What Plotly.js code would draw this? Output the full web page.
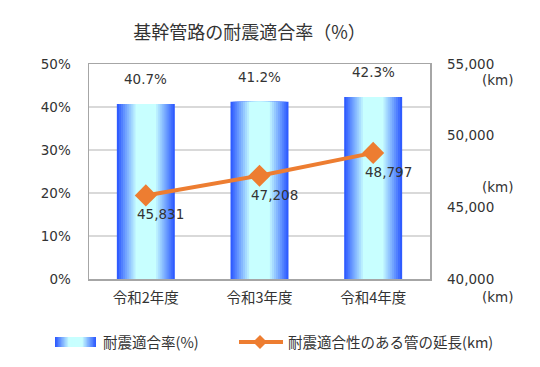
<!DOCTYPE html>
<html><head><meta charset="utf-8">
<script src="https://cdn.plot.ly/plotly-3.0.1.min.js"></script>
<style>html,body{margin:0;padding:0;background:#fff}#chart{width:540px;height:367px}</style>
</head><body><div id="chart"></div>
<script>
var categories = ['令和2年度', '令和3年度', '令和4年度'];
var rateValues = [40.7, 41.2, 42.3];          // 耐震適合率(%)
var lengthValues = [45831, 47208, 48797];     // 耐震適合性のある管の延長(km)
var rateTitle = '耐震適合率(%)';
var lengthTitle = '耐震適合性のある管の延長(km)';
var chartTitle = '基幹管路の耐震適合率（%）';

var numFont = 'DejaVu Sans, Verdana, sans-serif';
var cjkFont = 'Noto Sans CJK JP, sans-serif';
var txtColor = '#333333';

function hex(c){return [parseInt(c.substr(1,2),16),parseInt(c.substr(3,2),16),parseInt(c.substr(5,2),16)];}
function mix(a,b,t){var A=hex(a),B=hex(b);return 'rgb('+A.map(function(v,i){return Math.round(v+(B[i]-v)*t);}).join(',')+')';}
var edge='#2f5cff', center='#c8ffff';
var N=14, barW=0.51;
var traces=[];
var levelColors=[], levelFracs=[];
for(var i=0;i<N;i++){
  var t=i/(N-1);
  levelColors.push(mix(edge,center,Math.min(1,t*1.45)));
  levelFracs.push(1-i/N);
}
for(var i=0;i<N;i++){
  traces.push({type:'bar',x:categories,y:rateValues,width:barW*levelFracs[i],
    marker:{color:levelColors[i],line:{width:0}},showlegend:false,hoverinfo:i==0?'y':'skip',name:rateTitle});
}
traces.push({type:'scatter',mode:'lines+markers',x:categories,y:lengthValues,yaxis:'y2',name:lengthTitle,
  line:{color:'#ED7D31',width:4},marker:{symbol:'diamond',size:17,color:'#ED7D31'},showlegend:false});

var annotations=[];
categories.forEach(function(c,k){
  annotations.push({x:c,y:rateValues[k],xref:'x',yref:'y',text:rateValues[k].toFixed(1)+'%',showarrow:false,
    yshift:25,font:{family:numFont,size:13.5,color:txtColor}});
  annotations.push({x:c,y:lengthValues[k],xref:'x',yref:'y2',text:lengthValues[k].toLocaleString('en-US'),showarrow:false,
    xshift:15,yshift:-19,font:{family:numFont,size:13.5,color:txtColor}});
});
// (km) unit labels on right axis
[0.9256,0.4279,-0.0837].forEach(function(yy){
  annotations.push({xref:'paper',yref:'paper',x:1.1466,y:yy,xanchor:'left',yanchor:'middle',text:'(km)',showarrow:false,
    font:{family:numFont,size:13.5,color:txtColor}});
});
// legend texts
annotations.push({xref:'paper',yref:'paper',x:0.034,y:-0.293,xanchor:'left',yanchor:'middle',text:rateTitle,showarrow:false,
  font:{family:cjkFont,size:14.5,color:txtColor}});
annotations.push({xref:'paper',yref:'paper',x:0.577,y:-0.293,xanchor:'left',yanchor:'middle',text:lengthTitle,showarrow:false,
  font:{family:cjkFont,size:14.5,color:txtColor}});

var shapes=[];
// legend gradient swatch
var lx0=-0.0997, lx1=0.0205, lc=(lx0+lx1)/2, lhw=(lx1-lx0)/2;
for(var i=0;i<N;i++){
  shapes.push({type:'rect',xref:'paper',yref:'paper',x0:lc-lhw*levelFracs[i],x1:lc+lhw*levelFracs[i],y0:-0.316,y1:-0.270,
    fillcolor:levelColors[i],line:{width:0}});
}
shapes.push({type:'line',xref:'paper',yref:'paper',x0:0.4399,x1:0.5689,y0:-0.293,y1:-0.293,line:{color:'#ED7D31',width:4}});
shapes.push({type:'path',xref:'paper',yref:'paper',xsizemode:'pixel',ysizemode:'pixel',xanchor:0.5015,yanchor:-0.293,
  path:'M0,7 L7,0 L0,-7 L-7,0 Z',fillcolor:'#ED7D31',line:{width:0}});

var layout={
  width:540,height:367,
  margin:{l:89,r:110,t:64,b:88},
  paper_bgcolor:'#fff',plot_bgcolor:'#fff',
  barmode:'overlay',
  showlegend:false,
  title:{text:chartTitle,x:0.462,xanchor:'center',y:0.91,yanchor:'middle',font:{family:cjkFont,size:18,color:'#333'}},
  xaxis:{type:'category',range:[-0.5,2.5],showline:true,linecolor:'#a6a6a6',linewidth:1.5,mirror:true,ticks:'',
    tickfont:{family:cjkFont,size:14.5,color:txtColor},ticklabelstandoff:5,fixedrange:true},
  yaxis:{range:[0,50],dtick:10,ticksuffix:'%',showgrid:true,gridcolor:'#d9d9d9',gridwidth:1.5,zeroline:false,
    showline:true,linecolor:'#a6a6a6',linewidth:1.5,mirror:true,ticks:'',ticklabelstandoff:14,
    tickfont:{family:numFont,size:13.5,color:txtColor}},
  yaxis2:{overlaying:'y',side:'right',range:[40000,55000],dtick:5000,tickformat:',d',showgrid:false,zeroline:false,
    ticks:'',ticklabelstandoff:16,tickfont:{family:numFont,size:13.5,color:txtColor}},
  annotations:annotations,shapes:shapes
};
Plotly.newPlot('chart',traces,layout,{displayModeBar:false,staticPlot:true});
</script></body></html>
